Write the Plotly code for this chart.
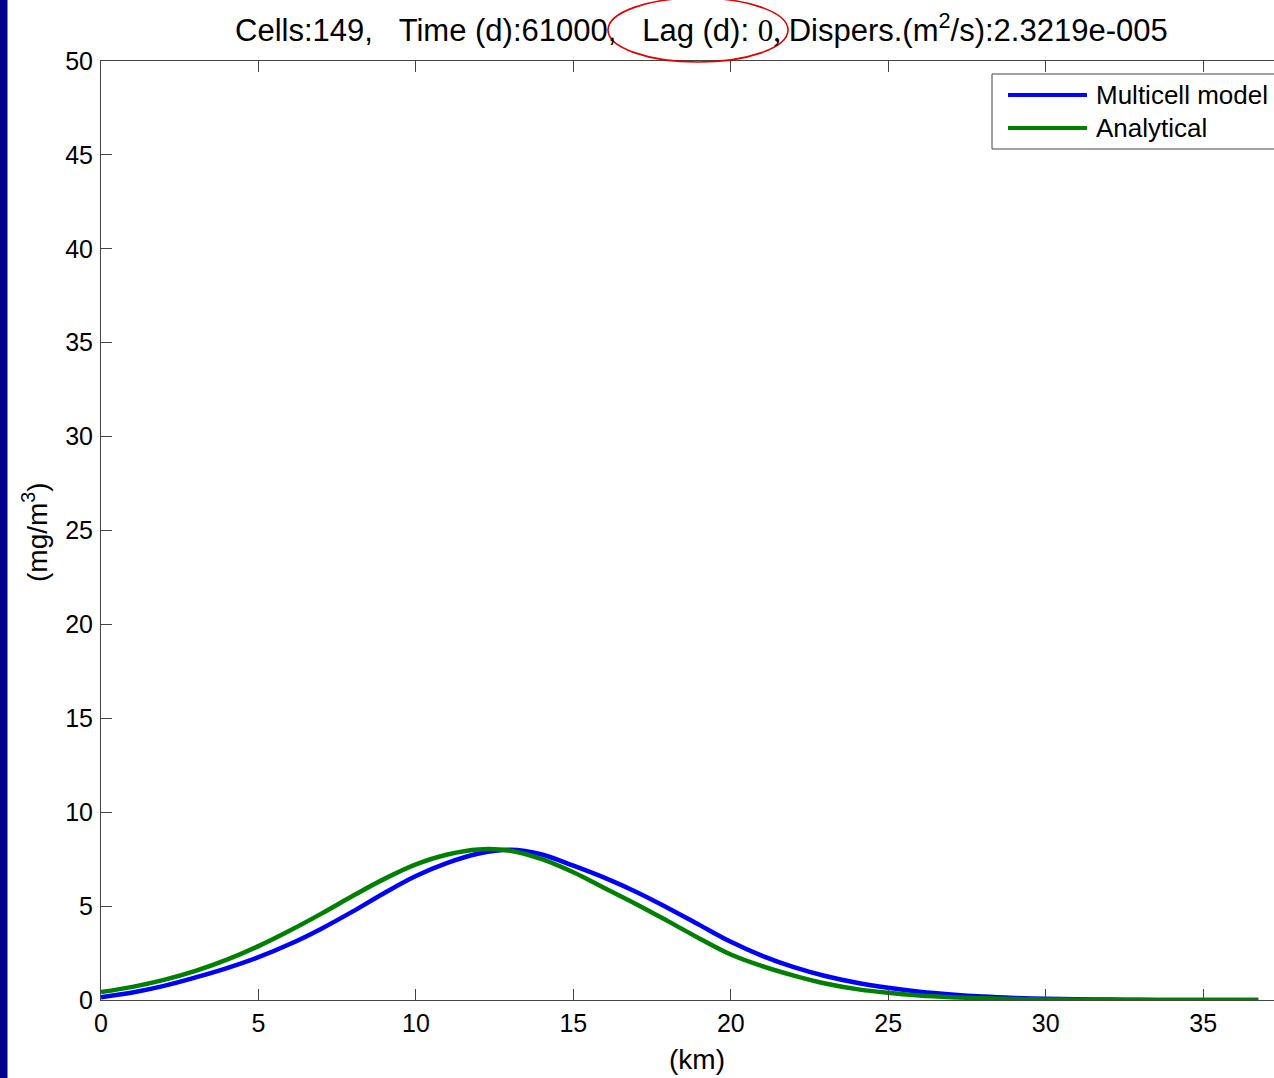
import plotly.graph_objects as go

# Distance along the channel (km)
distance_km = [0, 1, 2, 3, 4, 5, 6, 7, 8, 9, 10, 11, 12, 13, 14, 15, 16, 17, 18,
               19, 20, 21, 22, 23, 24, 25, 26, 27, 28, 29, 30, 31, 32, 33, 34,
               35, 36, 36.75]

# Concentration profiles (mg/m^3)
multicell_model = [0.15, 0.4, 0.75, 1.2, 1.7, 2.28, 2.98, 3.8, 4.72, 5.7, 6.6,
                   7.3, 7.8, 8.0, 7.75, 7.15, 6.5, 5.75, 4.9, 4.0, 3.1, 2.35,
                   1.75, 1.28, 0.92, 0.65, 0.44, 0.29, 0.18, 0.11, 0.07, 0.04,
                   0.02, 0.01, 0.0, 0.0, 0.0, 0.0]
analytical = [0.42, 0.7, 1.07, 1.55, 2.15, 2.87, 3.7, 4.6, 5.55, 6.45, 7.22,
              7.75, 8.02, 7.95, 7.5, 6.8, 5.95, 5.1, 4.2, 3.28, 2.42, 1.8,
              1.3, 0.88, 0.58, 0.38, 0.24, 0.15, 0.09, 0.05, 0.03, 0.015,
              0.005, 0.0, 0.0, 0.0, 0.0, 0.0]

series_names = ["Multicell model", "Analytical"]
series_colors = ["#0000FF", "#008000"]

x_ticks = [0, 5, 10, 15, 20, 25, 30, 35]
y_ticks = [0, 5, 10, 15, 20, 25, 30, 35, 40, 45, 50]

NB = "\u00a0"
title_text = ("Cells:149," + NB * 3 + "Time (d):61000," + NB * 2 + " Lag (d):" + NB +
              "<span style='font-family:Liberation Serif'>0," + NB + "</span>"
              "Dispers.(m<sup>2</sup>/s):2.3219e-005")

FONT = "Liberation Sans, Arial, sans-serif"
W, H = 1274, 1078
L, T, B = 101, 61, 78
PW = W - L
PH = H - T - B


def px(xp):
    return (xp - L) / PW


def py(yp):
    return (T + PH - yp) / PH


fig = go.Figure()
for name, ys, col in zip(series_names, [multicell_model, analytical], series_colors):
    fig.add_trace(go.Scatter(x=distance_km, y=ys, name=name, mode="lines",
                             line=dict(color=col, width=4.5, shape="spline"),
                             showlegend=False))

axis_common = dict(showline=True, linecolor="#444444", linewidth=1,
                   ticks="inside", ticklen=11, tickcolor="#444444", tickwidth=1,
                   showgrid=False, zeroline=False,
                   tickfont=dict(family=FONT, size=25, color="#000000"))

fig.update_xaxes(range=[0, 37.25], tickvals=x_ticks, ticktext=[str(v) for v in x_ticks],
                 mirror="ticks", ticklabelstandoff=1, **axis_common)
fig.update_yaxes(range=[0, 50], tickvals=y_ticks, ticktext=[str(v) for v in y_ticks],
                 mirror=False, ticklabelstandoff=2, **axis_common)

shapes = []
annotations = []

# dark frame strip on the left edge
shapes.append(dict(type="rect", xref="paper", yref="paper",
                   x0=px(-2), x1=px(7.5), y0=py(H + 5), y1=py(-5),
                   fillcolor="#02028C", line=dict(width=0), layer="above"))

# legend box
shapes.append(dict(type="rect", xref="paper", yref="paper",
                   x0=px(992), x1=px(1290), y0=py(149), y1=py(74),
                   fillcolor="white", line=dict(color="#444444", width=1), layer="above"))
for i, (name, col) in enumerate(zip(series_names, series_colors)):
    yy = 95 + i * 33
    shapes.append(dict(type="line", xref="paper", yref="paper",
                       x0=px(1008), x1=px(1087), y0=py(yy), y1=py(yy),
                       line=dict(color=col, width=4), layer="above"))
    annotations.append(dict(text=name, xref="paper", yref="paper",
                            x=px(1094), y=py(yy), xanchor="left", yanchor="middle",
                            showarrow=False,
                            font=dict(family=FONT, size=26, color="#000000")))

# highlight ring around the lag value
shapes.append(dict(type="circle", xref="paper", yref="paper",
                   x0=px(608), x1=px(788), y0=py(62), y1=py(-2),
                   line=dict(color="#E00000", width=1.6), layer="above"))

# title and axis labels
annotations.append(dict(text=title_text, xref="paper", yref="paper",
                        x=px(701), y=py(28), xanchor="center", yanchor="middle",
                        showarrow=False,
                        font=dict(family=FONT, size=31, color="#000000")))
annotations.append(dict(text="(km)", xref="paper", yref="paper",
                        x=px(697), y=py(1059), xanchor="center", yanchor="middle",
                        showarrow=False,
                        font=dict(family=FONT, size=28, color="#000000")))
annotations.append(dict(text="(mg/m<sup>3</sup>)", xref="paper", yref="paper",
                        x=px(35), y=py(532), xanchor="center", yanchor="middle",
                        textangle=-90, showarrow=False,
                        font=dict(family=FONT, size=28, color="#000000")))

fig.update_layout(width=W, height=H, margin=dict(l=L, r=0, t=T, b=B),
                  paper_bgcolor="white", plot_bgcolor="white",
                  showlegend=False, shapes=shapes, annotations=annotations)

fig.write_html("out.html")
